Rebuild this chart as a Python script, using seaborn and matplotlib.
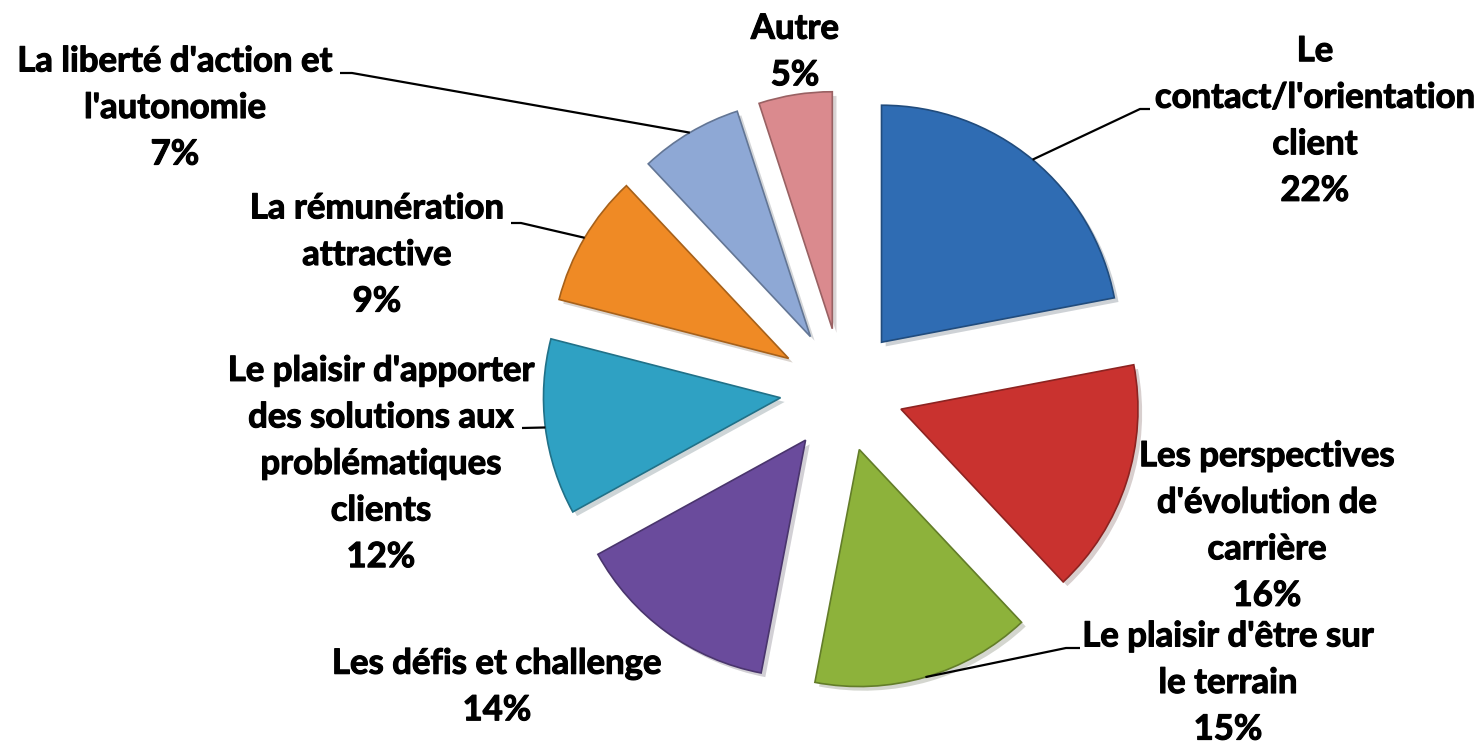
import numpy as np
import matplotlib.pyplot as plt
import matplotlib.patheffects as pe
import seaborn as sns

# données du graphique
labels = ["Le\ncontact/l'orientation\nclient",
          "Les perspectives\nd'évolution de\ncarrière",
          "Le plaisir d'être sur\nle terrain",
          "Les défis et challenge",
          "Le plaisir d'apporter\ndes solutions aux\nproblématiques\nclients",
          "La rémunération\nattractive",
          "La liberté d'action et\nl'autonomie",
          "Autre"]
shares = [22, 16, 15, 14, 12, 9, 7, 5]
hex_colors = ["#2F6CB3", "#C9322F", "#8DB23B", "#6A4B9C",
              "#2FA1C3", "#EF8A25", "#8EA8D5", "#DA8A8E"]

sns.set_style("white")
plt.rcParams['font.family'] = ['Lato', 'DejaVu Sans']
palette = sns.color_palette(hex_colors)

W, H = 1482, 750
fig = plt.figure(figsize=(W / 100, H / 100), dpi=100)
ax = fig.add_axes([0, 0, 1, 1])

edge = [tuple(c * 0.7 for c in col) for col in palette]
wedges, _ = ax.pie(shares, colors=palette, startangle=90, counterclock=False,
                   center=(842, H - 390), radius=237, explode=[62] * len(shares),
                   wedgeprops=dict(linewidth=1.2))
for w, ec in zip(wedges, edge):
    w.set_edgecolor(ec)
    w.set_path_effects([pe.SimplePatchShadow(offset=(3, -3), alpha=0.2), pe.Normal()])

ax.set_xlim(0, W)
ax.set_ylim(0, H)
ax.axis('off')

# position des étiquettes (pixels, origine en haut)
label_pos = [(1315, 121), (1267, 526), (1228, 683), (497, 687),
             (381, 464), (377, 255), (175, 108), (795, 52)]
bold = [pe.withStroke(linewidth=0.8, foreground='black')]
for lab, v, (px, py) in zip(labels, shares, label_pos):
    ax.text(px, H - py, f"{lab}\n{v}%", ha='center', va='center',
            fontsize=25, fontweight='bold', linespacing=1.56, color='black',
            path_effects=bold)

# lignes de rappel : (indice de la part, points du trait jusqu'au bord de la part)
leaders = {0: [(1150, 109), (1140, 109)],
           2: [(1080, 648), (1066, 648)],
           4: [(522, 428)],
           5: [(511, 223), (521, 223)],
           6: [(340, 73), (352, 73)]}
for i, pts in leaders.items():
    w = wedges[i]
    tm = np.deg2rad((w.theta1 + w.theta2) / 2)
    ex = w.center[0] + w.r * np.cos(tm)
    ey = w.center[1] + w.r * np.sin(tm)
    xs = [p[0] for p in pts] + [ex]
    ys = [H - p[1] for p in pts] + [ey]
    ax.plot(xs, ys, color='black', lw=1.6, solid_capstyle='butt')

fig.savefig("out.png", dpi=100, facecolor='white')
